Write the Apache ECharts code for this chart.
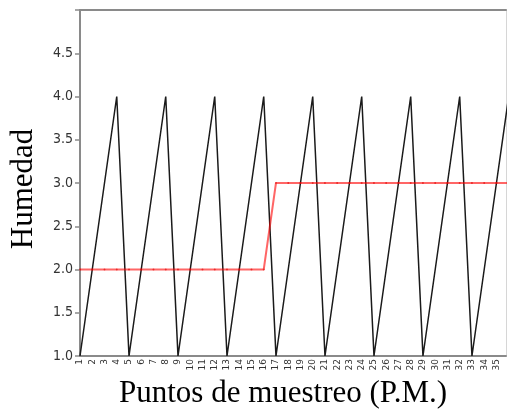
<!DOCTYPE html>
<html>
<head>
<meta charset="utf-8">
<script src="https://cdn.jsdelivr.net/npm/echarts@6/dist/echarts.min.js"></script>
<style>html,body{margin:0;padding:0;background:#fff}#c{width:507px;height:415px}</style>
</head>
<body>
<div id="c"></div>
<script>
const puntos = [1,2,3,4,5,6,7,8,9,10,11,12,13,14,15,16,17,18,19,20,21,22,23,24,25,26,27,28,29,30,31,32,33,34,35,36];
const serieNegra = [1,2,3,4,1,2,3,4,1,2,3,4,1,2,3,4,1,2,3,4,1,2,3,4,1,2,3,4,1,2,3,4,1,2,3,4];
const serieRoja = [2,2,2,2,2,2,2,2,2,2,2,2,2,2,2,2,3,3,3,3,3,3,3,3,3,3,3,3,3,3,3,3,3,3,3,3];
const yTicks = [1.0,1.5,2.0,2.5,3.0,3.5,4.0,4.5];
const ultimoRotulo = 35;

const chart = echarts.init(document.getElementById('c'), null, {renderer:'canvas'});
const axisGray = '#8a8a8a';
chart.setOption({
  animation:false,
  grid:{left:80, right:1, top:10, bottom:59},
  xAxis:[{
    type:'value', min:1, max:35.78, interval:1,
    name:'Puntos de muestreo (P.M.)', nameLocation:'middle', nameGap:20,
    nameTextStyle:{fontFamily:'Liberation Serif', fontSize:31, color:'#000', padding:[0,20,0,0]},
    axisLine:{show:true, onZero:false, lineStyle:{color:axisGray, width:2}},
    axisTick:{show:false},
    splitLine:{show:false},
    axisLabel:{rotate:90, fontSize:9, fontFamily:'DejaVu Sans', color:'#333', margin:3, hideOverlap:false,
      showMinLabel:true, showMaxLabel:true,
      formatter:function(v){ return (Number.isInteger(v) && v<=ultimoRotulo) ? String(v) : ''; }}
  },{
    type:'value', position:'top', min:1, max:35.78,
    axisLine:{show:true, lineStyle:{color:axisGray, width:2}},
    axisTick:{show:false}, axisLabel:{show:false}, splitLine:{show:false}
  }],
  yAxis:[{
    type:'value', min:1, max:5, interval:0.5,
    name:'Humedad', nameLocation:'middle', nameGap:41,
    nameTextStyle:{fontFamily:'Liberation Serif', fontSize:31, color:'#000', padding:[0,12,0,0]},
    axisLine:{show:true, onZero:false, lineStyle:{color:axisGray, width:2}},
    axisTick:{show:true, length:5, lineStyle:{color:axisGray, width:1.5}},
    splitLine:{show:false},
    axisLabel:{fontSize:14, fontFamily:'DejaVu Sans Condensed', color:'#333', margin:7,
      formatter:function(v){ return yTicks.indexOf(v) >= 0 ? v.toFixed(1) : ''; }}
  },{
    type:'value', position:'right', min:1, max:5,
    axisLine:{show:true, lineStyle:{color:'#d6d6d6', width:1}},
    axisTick:{show:false}, axisLabel:{show:false}, splitLine:{show:false}
  }],
  series:[{
    type:'line', name:'negra',
    data:puntos.map((p,i)=>[p, serieNegra[i]]),
    symbol:'none', clip:true,
    lineStyle:{color:'#1a1a1a', width:1.5}
  },{
    type:'line', name:'roja',
    data:puntos.map((p,i)=>[p, serieRoja[i]]),
    symbol:'circle', symbolSize:2, clip:true,
    itemStyle:{color:'rgba(220,0,0,0.6)'},
    lineStyle:{color:'rgba(255,0,0,0.6)', width:2}
  }]
});
</script>
</body>
</html>
